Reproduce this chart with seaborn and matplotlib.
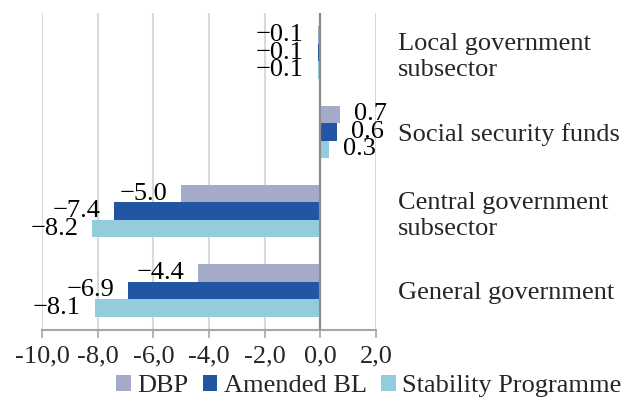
import pandas as pd
import seaborn as sns
from matplotlib import pyplot as plt
from matplotlib.patches import Patch

# data
sectors = ['Local government\nsubsector', 'Social security funds',
           'Central government\nsubsector', 'General government']
plans = ['DBP', 'Amended BL', 'Stability Programme']
dbp = [-0.1, 0.7, -5.0, -4.4]
amended_bl = [-0.1, 0.6, -7.4, -6.9]
stability = [-0.1, 0.3, -8.2, -8.1]
xticks = [-10, -8, -6, -4, -2, 0, 2]
xtick_labels = ['-10,0', '-8,0', '-6,0', '-4,0', '-2,0', '0,0', '2,0']
colors = ['#a3abc9', '#2255a4', '#93cddd']

df = pd.DataFrame({'sector': sectors * 3,
                   'plan': [p for p in plans for _ in sectors],
                   'value': dbp + amended_bl + stability})

sns.set_style('white')
plt.rcParams['font.family'] = ['Liberation Serif', 'DejaVu Serif']
plt.rcParams['font.size'] = 19

fig, ax = plt.subplots(figsize=(6.24, 3.98), dpi=100)
fig.subplots_adjust(left=42/624, right=376/624, top=1-13/398, bottom=1-330/398)

sns.barplot(data=df, x='value', y='sector', hue='plan', orient='h',
            palette=colors, width=0.66, gap=0, legend=False, ax=ax,
            saturation=1, edgecolor='none')

# value labels, Excel style with real minus sign
for cont in ax.containers:
    vals = [b.get_width() for b in cont]
    labs = [('%.1f' % v).replace('-', '\u2212') for v in vals]
    ax.bar_label(cont, labels=labs, padding=10, fontsize=19, color='black')

ax.set_xlim(-10, 2)
ax.set_xticks(xticks)
ax.set_xticklabels(xtick_labels)
ax.set_xlabel('')
ax.set_ylabel('')
ax.axvline(0, color='#8c8c8c', lw=1.6, zorder=5)
ax.grid(axis='x', color='#d9d9d9', lw=1.5)
ax.grid(axis='y', visible=False)
ax.set_axisbelow(True)
for s in ['left', 'right', 'top']:
    ax.spines[s].set_visible(False)
ax.spines['bottom'].set_color('#a6a6a6')
ax.spines['bottom'].set_linewidth(1.5)
ax.tick_params(axis='x', direction='out', length=5.8, width=1.2, color='#a6a6a6',
               pad=5, labelsize=19, bottom=True)
ax.yaxis.tick_right()
ax.tick_params(axis='y', length=0, pad=16, labelsize=19)
for t in ax.get_yticklabels():
    t.set_horizontalalignment('left')
    t.set_linespacing(1.25)

handles = [Patch(facecolor=c, edgecolor='none') for c in colors]
fig.legend(handles, plans, loc='center left', bbox_to_anchor=(116/624, 1-386/398),
           ncol=3, frameon=False, handlelength=0.55, handleheight=0.55,
           handletextpad=0.25, columnspacing=0.55, borderpad=0, borderaxespad=0,
           fontsize=19)

plt.savefig('out.png')
